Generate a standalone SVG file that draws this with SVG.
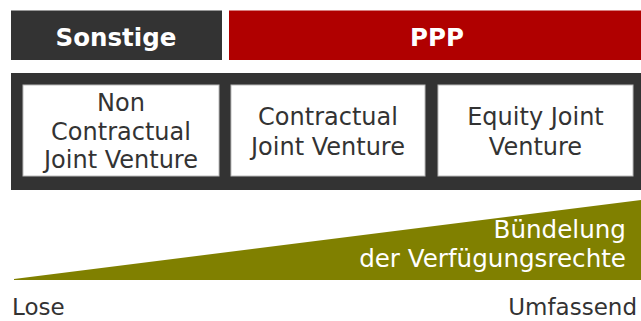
<svg xmlns="http://www.w3.org/2000/svg" width="641" height="321" viewBox="0 0 641 321">
<style>
.hdr{font-family:"DejaVu Sans",Verdana,sans-serif;font-weight:bold;font-size:24.5px;fill:#fff;text-anchor:middle}
.box{fill:#fff;stroke:#bbb;stroke-width:1}
.lbl{font-family:"DejaVu Sans",Verdana,sans-serif;font-size:24px;fill:#333;text-anchor:middle}
.wl{font-family:"DejaVu Sans",Verdana,sans-serif;font-size:24.6px;fill:#fff;text-anchor:end}
.ax{font-family:"DejaVu Sans",Verdana,sans-serif;font-size:23px;fill:#333}
</style>
<rect width="641" height="321" fill="#fff"/>
<g id="sonstige">
<rect x="11" y="10.5" width="211" height="49.5" fill="#333"/>
<text class="hdr" x="116" y="46">Sonstige</text>
</g>
<g id="ppp">
<rect x="229" y="10.5" width="412" height="49.5" fill="#B00000"/>
<text class="hdr" x="437" y="46">PPP</text>
</g>
<g id="container">
<rect x="11" y="73" width="630" height="117" fill="#333"/>
</g>
<g id="non-contractual">
<rect class="box" x="23" y="85" width="196" height="91"/>
<text class="lbl" x="121" y="111">Non</text>
<text class="lbl" x="121" y="140">Contractual</text>
<text class="lbl" x="121" y="168">Joint Venture</text>
</g>
<g id="contractual">
<rect class="box" x="231" y="85" width="194" height="91"/>
<text class="lbl" x="328" y="125">Contractual</text>
<text class="lbl" x="328" y="155">Joint Venture</text>
</g>
<g id="equity">
<rect class="box" x="438" y="85" width="195" height="91"/>
<text class="lbl" x="535.5" y="125">Equity Joint</text>
<text class="lbl" x="535.5" y="155">Venture</text>
</g>
<g id="wedge">
<polygon points="14,279 641,200 641,280 14,280" fill="#808000"/>
<text class="wl" x="626" y="238">Bündelung</text>
<text class="wl" x="626" y="267">der Verfügungsrechte</text>
</g>
<g id="axis">
<text class="ax" x="12" y="314.5">Lose</text>
<text class="ax" x="637" y="314.5" text-anchor="end">Umfassend</text>
</g>
<g id="connectors"/>
</svg>
